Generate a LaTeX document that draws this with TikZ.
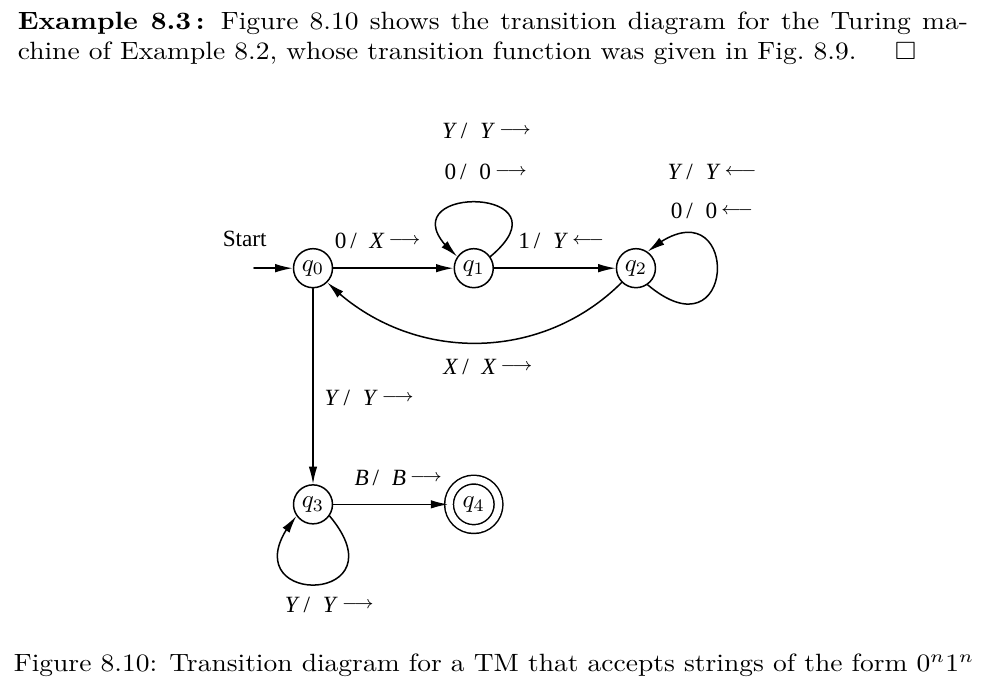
\documentclass[tikz,border=0pt]{standalone}
\usepackage{amssymb}
\usepackage{fontspec}
\newfontfamily\tmfont{Liberation Serif}
\usetikzlibrary{arrows.meta,bending}
\begin{document}
\begin{tikzpicture}[line join=round, line cap=round, line width=0.6pt, >={Latex[length=7pt,width=3.4pt]},
  state/.style={circle, draw, minimum size=15.6pt, inner sep=0pt},
  accept/.style={state, double, double distance=2.9pt, minimum size=19.8pt},
  lbl/.style={font=\tmfont\fontsize{9.3}{11}\selectfont, inner sep=0pt, anchor=base},
  wide/.style={inner sep=0pt, anchor=base west, xscale=1.1, transform shape}]
\useasboundingbox (0,0) rectangle (14.17,9.83);
\def\trn#1#2#3{#1\,/\hspace{0.55em}#2\,#3}
\def\mvr{\raisebox{1.6pt}{\scriptsize$\longrightarrow$}}
\def\mvl{\raisebox{1.6pt}{\scriptsize$\longleftarrow$}}
% states
\foreach \n/\x/\y in {0/4.40/6.06, 1/6.66/6.06, 2/8.94/6.06, 3/4.40/2.74}
  \node[state] (q\n) at (\x,\y) {$q_\n$};
\node[accept] (q4) at (6.66,2.74) {$q_4$};
\coordinate (start) at (3.57,6.06);
\node[lbl] (st) at (3.44,6.36) {Start};
% transitions
\draw[->] (start) -- (q0);
\draw[->] (q0) -- (q1);
\draw[->] (q1) -- (q2);
\draw[->] (q0) -- (q3);
\draw[->] (q3) -- (q4);
\draw[->] (q2) to[bend left=45] (q0);
\draw[->] (q1.35) to[out=40,in=140,looseness=8.8] (q1.145);
\draw[->] (q2.-55) to[out=-40,in=40,looseness=9.4] (q2.55);
\draw[->] (q3.-35) to[out=-50,in=-130,looseness=9.3] (q3.-145);
% labels
\node[lbl] (l1a) at (6.84,7.89) {\trn{\textit{Y}}{\textit{Y}}{\mvr}};
\node[lbl] (l1b) at (6.83,7.31) {\trn{0}{0}{\mvr}};
\node[lbl] (l01) at (5.31,6.34) {\trn{0}{\textit{X}}{\mvr}};
\node[lbl] (l12) at (7.89,6.34) {\trn{1}{\textit{Y}}{\mvl}};
\node[lbl] (l2a) at (10.01,7.30) {\trn{\textit{Y}}{\textit{Y}}{\mvl}};
\node[lbl] (l2b) at (10.01,6.76) {\trn{0}{0}{\mvl}};
\node[lbl] (l20) at (6.86,4.56) {\trn{\textit{X}}{\textit{X}}{\mvr}};
\node[lbl] (l03) at (5.19,4.13) {\trn{\textit{Y}}{\textit{Y}}{\mvr}};
\node[lbl] (l34) at (5.60,3.01) {\trn{\textit{B}}{\textit{B}}{\mvr}};
\node[lbl] (l3) at (4.63,1.22) {\trn{\textit{Y}}{\textit{Y}}{\mvr}};
% text
\node[wide] (head) at (0.239,9.41) {\parbox[t]{345.5pt}{\textbf{Example 8.3\,:} Figure 8.10 shows the transition diagram for the Turing ma-\linebreak chine of Example 8.2, whose transition function was given in Fig.~8.9.\hspace{14pt}$\square$}};
\node[wide] (cap) at (0.183,0.39) {Figure 8.10: Transition diagram for a TM that accepts strings of the form $0^n1^n$};
\end{tikzpicture}
\end{document}
